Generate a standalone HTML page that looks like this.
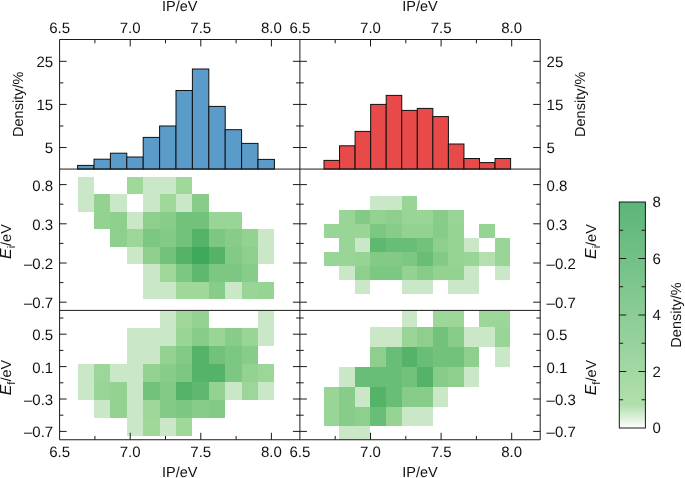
<!DOCTYPE html>
<html><head><meta charset="utf-8"><style>
html,body{margin:0;padding:0;background:#fff;width:685px;height:478px;overflow:hidden}
svg{display:block;will-change:transform}
text{font-family:"Liberation Sans", sans-serif;font-size:14.5px;fill:#111}
text.t{font-size:15px}
</style></head><body>
<svg width="685" height="478" viewBox="0 0 685 478" text-rendering="geometricPrecision">
<g shape-rendering="crispEdges">
<rect x="77.60" y="176.80" width="16.40" height="17.47" fill="#cae8c7"/>
<rect x="126.80" y="176.80" width="16.40" height="17.47" fill="#9fd899"/>
<rect x="143.20" y="176.80" width="16.40" height="17.47" fill="#cae8c7"/>
<rect x="159.60" y="176.80" width="16.40" height="17.47" fill="#cae8c7"/>
<rect x="176.00" y="176.80" width="16.40" height="17.47" fill="#9fd899"/>
<rect x="77.60" y="194.27" width="16.40" height="17.47" fill="#cae8c7"/>
<rect x="94.00" y="194.27" width="16.40" height="17.47" fill="#93d291"/>
<rect x="110.40" y="194.27" width="16.40" height="17.47" fill="#cae8c7"/>
<rect x="143.20" y="194.27" width="16.40" height="17.47" fill="#cae8c7"/>
<rect x="159.60" y="194.27" width="16.40" height="17.47" fill="#9fd899"/>
<rect x="176.00" y="194.27" width="16.40" height="17.47" fill="#cae8c7"/>
<rect x="192.40" y="194.27" width="16.40" height="17.47" fill="#88cc89"/>
<rect x="94.00" y="211.74" width="16.40" height="17.47" fill="#93d291"/>
<rect x="110.40" y="211.74" width="16.40" height="17.47" fill="#8ecf8d"/>
<rect x="126.80" y="211.74" width="16.40" height="17.47" fill="#cae8c7"/>
<rect x="143.20" y="211.74" width="16.40" height="17.47" fill="#8ecf8d"/>
<rect x="159.60" y="211.74" width="16.40" height="17.47" fill="#88cc89"/>
<rect x="176.00" y="211.74" width="16.40" height="17.47" fill="#72c27c"/>
<rect x="192.40" y="211.74" width="16.40" height="17.47" fill="#72c27c"/>
<rect x="208.80" y="211.74" width="16.40" height="17.47" fill="#99d596"/>
<rect x="225.20" y="211.74" width="16.40" height="17.47" fill="#99d596"/>
<rect x="110.40" y="229.21" width="16.40" height="17.47" fill="#8ecf8d"/>
<rect x="126.80" y="229.21" width="16.40" height="17.47" fill="#9cd698"/>
<rect x="143.20" y="229.21" width="16.40" height="17.47" fill="#7cc782"/>
<rect x="159.60" y="229.21" width="16.40" height="17.47" fill="#82ca86"/>
<rect x="176.00" y="229.21" width="16.40" height="17.47" fill="#72c27c"/>
<rect x="192.40" y="229.21" width="16.40" height="17.47" fill="#55b269"/>
<rect x="208.80" y="229.21" width="16.40" height="17.47" fill="#7cc782"/>
<rect x="225.20" y="229.21" width="16.40" height="17.47" fill="#88cc89"/>
<rect x="241.60" y="229.21" width="16.40" height="17.47" fill="#93d291"/>
<rect x="258.00" y="229.21" width="16.40" height="17.47" fill="#cae8c7"/>
<rect x="126.80" y="246.68" width="16.40" height="17.47" fill="#cae8c7"/>
<rect x="143.20" y="246.68" width="16.40" height="17.47" fill="#8ecf8d"/>
<rect x="159.60" y="246.68" width="16.40" height="17.47" fill="#72c27c"/>
<rect x="176.00" y="246.68" width="16.40" height="17.47" fill="#55b269"/>
<rect x="192.40" y="246.68" width="16.40" height="17.47" fill="#3ea85b"/>
<rect x="208.80" y="246.68" width="16.40" height="17.47" fill="#55b269"/>
<rect x="225.20" y="246.68" width="16.40" height="17.47" fill="#82ca86"/>
<rect x="241.60" y="246.68" width="16.40" height="17.47" fill="#8ecf8d"/>
<rect x="258.00" y="246.68" width="16.40" height="17.47" fill="#cae8c7"/>
<rect x="143.20" y="264.15" width="16.40" height="17.47" fill="#cae8c7"/>
<rect x="159.60" y="264.15" width="16.40" height="17.47" fill="#9fd899"/>
<rect x="176.00" y="264.15" width="16.40" height="17.47" fill="#7cc782"/>
<rect x="192.40" y="264.15" width="16.40" height="17.47" fill="#5fb870"/>
<rect x="208.80" y="264.15" width="16.40" height="17.47" fill="#7cc782"/>
<rect x="225.20" y="264.15" width="16.40" height="17.47" fill="#7cc782"/>
<rect x="241.60" y="264.15" width="16.40" height="17.47" fill="#88cc89"/>
<rect x="143.20" y="281.62" width="16.40" height="17.47" fill="#cae8c7"/>
<rect x="159.60" y="281.62" width="16.40" height="17.47" fill="#cae8c7"/>
<rect x="176.00" y="281.62" width="16.40" height="17.47" fill="#9fd899"/>
<rect x="192.40" y="281.62" width="16.40" height="17.47" fill="#9fd899"/>
<rect x="208.80" y="281.62" width="16.40" height="17.47" fill="#88cc89"/>
<rect x="225.20" y="281.62" width="16.40" height="17.47" fill="#cae8c7"/>
<rect x="241.60" y="281.62" width="16.40" height="17.47" fill="#99d596"/>
<rect x="258.00" y="281.62" width="16.40" height="17.47" fill="#96d494"/>
<rect x="159.60" y="310.50" width="16.40" height="17.90" fill="#cae8c7"/>
<rect x="176.00" y="310.50" width="16.40" height="17.90" fill="#9fd899"/>
<rect x="192.40" y="310.50" width="16.40" height="17.90" fill="#93d291"/>
<rect x="258.00" y="310.50" width="16.40" height="17.90" fill="#cae8c7"/>
<rect x="126.80" y="328.40" width="16.40" height="17.90" fill="#cae8c7"/>
<rect x="143.20" y="328.40" width="16.40" height="17.90" fill="#cae8c7"/>
<rect x="159.60" y="328.40" width="16.40" height="17.90" fill="#cae8c7"/>
<rect x="176.00" y="328.40" width="16.40" height="17.90" fill="#99d596"/>
<rect x="192.40" y="328.40" width="16.40" height="17.90" fill="#88cc89"/>
<rect x="208.80" y="328.40" width="16.40" height="17.90" fill="#99d596"/>
<rect x="225.20" y="328.40" width="16.40" height="17.90" fill="#88cc89"/>
<rect x="241.60" y="328.40" width="16.40" height="17.90" fill="#99d596"/>
<rect x="258.00" y="328.40" width="16.40" height="17.90" fill="#cae8c7"/>
<rect x="126.80" y="346.30" width="16.40" height="17.90" fill="#cae8c7"/>
<rect x="143.20" y="346.30" width="16.40" height="17.90" fill="#cae8c7"/>
<rect x="159.60" y="346.30" width="16.40" height="17.90" fill="#93d291"/>
<rect x="176.00" y="346.30" width="16.40" height="17.90" fill="#82ca86"/>
<rect x="192.40" y="346.30" width="16.40" height="17.90" fill="#55b269"/>
<rect x="208.80" y="346.30" width="16.40" height="17.90" fill="#72c27c"/>
<rect x="225.20" y="346.30" width="16.40" height="17.90" fill="#7cc782"/>
<rect x="241.60" y="346.30" width="16.40" height="17.90" fill="#88cc89"/>
<rect x="77.60" y="364.20" width="16.40" height="17.90" fill="#cae8c7"/>
<rect x="94.00" y="364.20" width="16.40" height="17.90" fill="#9cd698"/>
<rect x="110.40" y="364.20" width="16.40" height="17.90" fill="#cae8c7"/>
<rect x="126.80" y="364.20" width="16.40" height="17.90" fill="#cae8c7"/>
<rect x="143.20" y="364.20" width="16.40" height="17.90" fill="#93d291"/>
<rect x="159.60" y="364.20" width="16.40" height="17.90" fill="#88cc89"/>
<rect x="176.00" y="364.20" width="16.40" height="17.90" fill="#7cc782"/>
<rect x="192.40" y="364.20" width="16.40" height="17.90" fill="#55b269"/>
<rect x="208.80" y="364.20" width="16.40" height="17.90" fill="#55b269"/>
<rect x="225.20" y="364.20" width="16.40" height="17.90" fill="#7cc782"/>
<rect x="241.60" y="364.20" width="16.40" height="17.90" fill="#93d291"/>
<rect x="258.00" y="364.20" width="16.40" height="17.90" fill="#9cd698"/>
<rect x="77.60" y="382.10" width="16.40" height="17.90" fill="#cae8c7"/>
<rect x="94.00" y="382.10" width="16.40" height="17.90" fill="#99d596"/>
<rect x="110.40" y="382.10" width="16.40" height="17.90" fill="#93d291"/>
<rect x="126.80" y="382.10" width="16.40" height="17.90" fill="#cae8c7"/>
<rect x="143.20" y="382.10" width="16.40" height="17.90" fill="#72c27c"/>
<rect x="159.60" y="382.10" width="16.40" height="17.90" fill="#82ca86"/>
<rect x="176.00" y="382.10" width="16.40" height="17.90" fill="#55b269"/>
<rect x="192.40" y="382.10" width="16.40" height="17.90" fill="#5fb870"/>
<rect x="208.80" y="382.10" width="16.40" height="17.90" fill="#93d291"/>
<rect x="225.20" y="382.10" width="16.40" height="17.90" fill="#cae8c7"/>
<rect x="241.60" y="382.10" width="16.40" height="17.90" fill="#9cd698"/>
<rect x="258.00" y="382.10" width="16.40" height="17.90" fill="#cae8c7"/>
<rect x="94.00" y="400.00" width="16.40" height="17.90" fill="#cae8c7"/>
<rect x="110.40" y="400.00" width="16.40" height="17.90" fill="#93d291"/>
<rect x="126.80" y="400.00" width="16.40" height="17.90" fill="#cae8c7"/>
<rect x="143.20" y="400.00" width="16.40" height="17.90" fill="#9cd698"/>
<rect x="159.60" y="400.00" width="16.40" height="17.90" fill="#82ca86"/>
<rect x="176.00" y="400.00" width="16.40" height="17.90" fill="#7cc782"/>
<rect x="192.40" y="400.00" width="16.40" height="17.90" fill="#88cc89"/>
<rect x="208.80" y="400.00" width="16.40" height="17.90" fill="#82ca86"/>
<rect x="126.80" y="417.90" width="16.40" height="17.90" fill="#cae8c7"/>
<rect x="143.20" y="417.90" width="16.40" height="17.90" fill="#9fd899"/>
<rect x="159.60" y="417.90" width="16.40" height="17.90" fill="#cae8c7"/>
<rect x="176.00" y="417.90" width="16.40" height="17.90" fill="#9fd899"/>
<rect x="370.45" y="196.10" width="15.55" height="14.05" fill="#cae8c7"/>
<rect x="386.00" y="196.10" width="15.55" height="14.05" fill="#cae8c7"/>
<rect x="401.55" y="196.10" width="15.55" height="14.05" fill="#99d596"/>
<rect x="339.35" y="210.15" width="15.55" height="14.05" fill="#99d596"/>
<rect x="354.90" y="210.15" width="15.55" height="14.05" fill="#82ca86"/>
<rect x="370.45" y="210.15" width="15.55" height="14.05" fill="#93d291"/>
<rect x="386.00" y="210.15" width="15.55" height="14.05" fill="#8ecf8d"/>
<rect x="401.55" y="210.15" width="15.55" height="14.05" fill="#99d596"/>
<rect x="417.10" y="210.15" width="15.55" height="14.05" fill="#99d596"/>
<rect x="432.65" y="210.15" width="15.55" height="14.05" fill="#88cc89"/>
<rect x="448.20" y="210.15" width="15.55" height="14.05" fill="#99d596"/>
<rect x="323.80" y="224.20" width="15.55" height="14.05" fill="#99d596"/>
<rect x="339.35" y="224.20" width="15.55" height="14.05" fill="#99d596"/>
<rect x="354.90" y="224.20" width="15.55" height="14.05" fill="#99d596"/>
<rect x="370.45" y="224.20" width="15.55" height="14.05" fill="#7cc782"/>
<rect x="386.00" y="224.20" width="15.55" height="14.05" fill="#88cc89"/>
<rect x="401.55" y="224.20" width="15.55" height="14.05" fill="#93d291"/>
<rect x="417.10" y="224.20" width="15.55" height="14.05" fill="#93d291"/>
<rect x="432.65" y="224.20" width="15.55" height="14.05" fill="#88cc89"/>
<rect x="448.20" y="224.20" width="15.55" height="14.05" fill="#96d494"/>
<rect x="479.30" y="224.20" width="15.55" height="14.05" fill="#96d494"/>
<rect x="339.35" y="238.25" width="15.55" height="14.05" fill="#99d596"/>
<rect x="354.90" y="238.25" width="15.55" height="14.05" fill="#cae8c7"/>
<rect x="370.45" y="238.25" width="15.55" height="14.05" fill="#5fb870"/>
<rect x="386.00" y="238.25" width="15.55" height="14.05" fill="#69be77"/>
<rect x="401.55" y="238.25" width="15.55" height="14.05" fill="#69be77"/>
<rect x="417.10" y="238.25" width="15.55" height="14.05" fill="#72c27c"/>
<rect x="432.65" y="238.25" width="15.55" height="14.05" fill="#8ecf8d"/>
<rect x="448.20" y="238.25" width="15.55" height="14.05" fill="#96d494"/>
<rect x="463.75" y="238.25" width="15.55" height="14.05" fill="#cae8c7"/>
<rect x="494.85" y="238.25" width="15.55" height="14.05" fill="#99d596"/>
<rect x="323.80" y="252.30" width="15.55" height="14.05" fill="#99d596"/>
<rect x="339.35" y="252.30" width="15.55" height="14.05" fill="#99d596"/>
<rect x="354.90" y="252.30" width="15.55" height="14.05" fill="#96d494"/>
<rect x="370.45" y="252.30" width="15.55" height="14.05" fill="#82ca86"/>
<rect x="386.00" y="252.30" width="15.55" height="14.05" fill="#82ca86"/>
<rect x="401.55" y="252.30" width="15.55" height="14.05" fill="#7cc782"/>
<rect x="417.10" y="252.30" width="15.55" height="14.05" fill="#69be77"/>
<rect x="432.65" y="252.30" width="15.55" height="14.05" fill="#82ca86"/>
<rect x="448.20" y="252.30" width="15.55" height="14.05" fill="#96d494"/>
<rect x="463.75" y="252.30" width="15.55" height="14.05" fill="#99d596"/>
<rect x="479.30" y="252.30" width="15.55" height="14.05" fill="#b4e0b0"/>
<rect x="494.85" y="252.30" width="15.55" height="14.05" fill="#99d596"/>
<rect x="339.35" y="266.35" width="15.55" height="14.05" fill="#cae8c7"/>
<rect x="354.90" y="266.35" width="15.55" height="14.05" fill="#8ecf8d"/>
<rect x="370.45" y="266.35" width="15.55" height="14.05" fill="#7cc782"/>
<rect x="386.00" y="266.35" width="15.55" height="14.05" fill="#7cc782"/>
<rect x="401.55" y="266.35" width="15.55" height="14.05" fill="#93d291"/>
<rect x="417.10" y="266.35" width="15.55" height="14.05" fill="#88cc89"/>
<rect x="432.65" y="266.35" width="15.55" height="14.05" fill="#93d291"/>
<rect x="448.20" y="266.35" width="15.55" height="14.05" fill="#93d291"/>
<rect x="463.75" y="266.35" width="15.55" height="14.05" fill="#cae8c7"/>
<rect x="494.85" y="266.35" width="15.55" height="14.05" fill="#cae8c7"/>
<rect x="354.90" y="280.40" width="15.55" height="14.05" fill="#cae8c7"/>
<rect x="401.55" y="280.40" width="15.55" height="14.05" fill="#cae8c7"/>
<rect x="417.10" y="280.40" width="15.55" height="14.05" fill="#cae8c7"/>
<rect x="448.20" y="280.40" width="15.55" height="14.05" fill="#cae8c7"/>
<rect x="463.75" y="280.40" width="15.55" height="14.05" fill="#cae8c7"/>
<rect x="401.55" y="310.40" width="15.55" height="17.00" fill="#cae8c7"/>
<rect x="432.65" y="310.40" width="15.55" height="17.00" fill="#9cd698"/>
<rect x="448.20" y="310.40" width="15.55" height="17.00" fill="#9cd698"/>
<rect x="479.30" y="310.40" width="15.55" height="17.00" fill="#9cd698"/>
<rect x="494.85" y="310.40" width="15.55" height="17.00" fill="#9cd698"/>
<rect x="370.45" y="327.40" width="15.55" height="19.80" fill="#cae8c7"/>
<rect x="386.00" y="327.40" width="15.55" height="19.80" fill="#cae8c7"/>
<rect x="401.55" y="327.40" width="15.55" height="19.80" fill="#99d596"/>
<rect x="417.10" y="327.40" width="15.55" height="19.80" fill="#8ecf8d"/>
<rect x="432.65" y="327.40" width="15.55" height="19.80" fill="#72c27c"/>
<rect x="448.20" y="327.40" width="15.55" height="19.80" fill="#88cc89"/>
<rect x="463.75" y="327.40" width="15.55" height="19.80" fill="#cae8c7"/>
<rect x="479.30" y="327.40" width="15.55" height="19.80" fill="#cae8c7"/>
<rect x="494.85" y="327.40" width="15.55" height="19.80" fill="#99d596"/>
<rect x="370.45" y="347.20" width="15.55" height="19.80" fill="#8ecf8d"/>
<rect x="386.00" y="347.20" width="15.55" height="19.80" fill="#69be77"/>
<rect x="401.55" y="347.20" width="15.55" height="19.80" fill="#55b269"/>
<rect x="417.10" y="347.20" width="15.55" height="19.80" fill="#69be77"/>
<rect x="432.65" y="347.20" width="15.55" height="19.80" fill="#72c27c"/>
<rect x="448.20" y="347.20" width="15.55" height="19.80" fill="#72c27c"/>
<rect x="463.75" y="347.20" width="15.55" height="19.80" fill="#8ecf8d"/>
<rect x="494.85" y="347.20" width="15.55" height="19.80" fill="#cae8c7"/>
<rect x="339.35" y="367.00" width="15.55" height="19.80" fill="#cae8c7"/>
<rect x="354.90" y="367.00" width="15.55" height="19.80" fill="#69be77"/>
<rect x="370.45" y="367.00" width="15.55" height="19.80" fill="#69be77"/>
<rect x="386.00" y="367.00" width="15.55" height="19.80" fill="#69be77"/>
<rect x="401.55" y="367.00" width="15.55" height="19.80" fill="#72c27c"/>
<rect x="417.10" y="367.00" width="15.55" height="19.80" fill="#55b269"/>
<rect x="432.65" y="367.00" width="15.55" height="19.80" fill="#88cc89"/>
<rect x="448.20" y="367.00" width="15.55" height="19.80" fill="#8ecf8d"/>
<rect x="463.75" y="367.00" width="15.55" height="19.80" fill="#cae8c7"/>
<rect x="323.80" y="386.80" width="15.55" height="19.80" fill="#99d596"/>
<rect x="339.35" y="386.80" width="15.55" height="19.80" fill="#88cc89"/>
<rect x="354.90" y="386.80" width="15.55" height="19.80" fill="#cae8c7"/>
<rect x="370.45" y="386.80" width="15.55" height="19.80" fill="#55b269"/>
<rect x="386.00" y="386.80" width="15.55" height="19.80" fill="#69be77"/>
<rect x="401.55" y="386.80" width="15.55" height="19.80" fill="#88cc89"/>
<rect x="417.10" y="386.80" width="15.55" height="19.80" fill="#88cc89"/>
<rect x="432.65" y="386.80" width="15.55" height="19.80" fill="#cae8c7"/>
<rect x="323.80" y="406.60" width="15.55" height="19.80" fill="#99d596"/>
<rect x="339.35" y="406.60" width="15.55" height="19.80" fill="#88cc89"/>
<rect x="354.90" y="406.60" width="15.55" height="19.80" fill="#8ecf8d"/>
<rect x="370.45" y="406.60" width="15.55" height="19.80" fill="#69be77"/>
<rect x="386.00" y="406.60" width="15.55" height="19.80" fill="#96d494"/>
<rect x="401.55" y="406.60" width="15.55" height="19.80" fill="#cae8c7"/>
<rect x="417.10" y="406.60" width="15.55" height="19.80" fill="#cae8c7"/>
<rect x="339.35" y="426.40" width="15.55" height="13.35" fill="#cae8c7"/>
<rect x="354.90" y="426.40" width="15.55" height="13.35" fill="#cae8c7"/>
</g>
<rect x="77.60" y="165.40" width="16.4" height="3.67" fill="#5a9bc9" stroke="#111" stroke-width="1"/>
<rect x="94.00" y="159.20" width="16.4" height="9.87" fill="#5a9bc9" stroke="#111" stroke-width="1"/>
<rect x="110.40" y="153.20" width="16.4" height="15.87" fill="#5a9bc9" stroke="#111" stroke-width="1"/>
<rect x="126.80" y="157.00" width="16.4" height="12.07" fill="#5a9bc9" stroke="#111" stroke-width="1"/>
<rect x="143.20" y="137.40" width="16.4" height="31.67" fill="#5a9bc9" stroke="#111" stroke-width="1"/>
<rect x="159.60" y="126.00" width="16.4" height="43.07" fill="#5a9bc9" stroke="#111" stroke-width="1"/>
<rect x="176.00" y="90.50" width="16.4" height="78.57" fill="#5a9bc9" stroke="#111" stroke-width="1"/>
<rect x="192.40" y="69.00" width="16.4" height="100.07" fill="#5a9bc9" stroke="#111" stroke-width="1"/>
<rect x="208.80" y="106.40" width="16.4" height="62.67" fill="#5a9bc9" stroke="#111" stroke-width="1"/>
<rect x="225.20" y="129.70" width="16.4" height="39.37" fill="#5a9bc9" stroke="#111" stroke-width="1"/>
<rect x="241.60" y="143.40" width="16.4" height="25.67" fill="#5a9bc9" stroke="#111" stroke-width="1"/>
<rect x="258.00" y="159.40" width="16.4" height="9.67" fill="#5a9bc9" stroke="#111" stroke-width="1"/>
<rect x="324.00" y="160.40" width="15.55" height="8.67" fill="#e84a4a" stroke="#111" stroke-width="1"/>
<rect x="339.55" y="145.80" width="15.55" height="23.27" fill="#e84a4a" stroke="#111" stroke-width="1"/>
<rect x="355.10" y="131.40" width="15.55" height="37.67" fill="#e84a4a" stroke="#111" stroke-width="1"/>
<rect x="370.65" y="104.40" width="15.55" height="64.67" fill="#e84a4a" stroke="#111" stroke-width="1"/>
<rect x="386.20" y="95.40" width="15.55" height="73.67" fill="#e84a4a" stroke="#111" stroke-width="1"/>
<rect x="401.75" y="110.40" width="15.55" height="58.67" fill="#e84a4a" stroke="#111" stroke-width="1"/>
<rect x="417.30" y="108.40" width="15.55" height="60.67" fill="#e84a4a" stroke="#111" stroke-width="1"/>
<rect x="432.85" y="116.60" width="15.55" height="52.47" fill="#e84a4a" stroke="#111" stroke-width="1"/>
<rect x="448.40" y="144.00" width="15.55" height="25.07" fill="#e84a4a" stroke="#111" stroke-width="1"/>
<rect x="463.95" y="158.50" width="15.55" height="10.57" fill="#e84a4a" stroke="#111" stroke-width="1"/>
<rect x="479.50" y="162.60" width="15.55" height="6.47" fill="#e84a4a" stroke="#111" stroke-width="1"/>
<rect x="495.05" y="158.50" width="15.55" height="10.57" fill="#e84a4a" stroke="#111" stroke-width="1"/>
<line x1="59.60" y1="39.50" x2="540.20" y2="39.50" stroke="#1a1a1a" stroke-width="1.0"/>
<line x1="59.60" y1="439.75" x2="540.20" y2="439.75" stroke="#1a1a1a" stroke-width="1.0"/>
<line x1="59.60" y1="39.50" x2="59.60" y2="439.75" stroke="#1a1a1a" stroke-width="1.0"/>
<line x1="299.90" y1="39.50" x2="299.90" y2="439.75" stroke="#1a1a1a" stroke-width="1.0"/>
<line x1="540.20" y1="39.50" x2="540.20" y2="439.75" stroke="#1a1a1a" stroke-width="1.0"/>
<line x1="59.60" y1="169.07" x2="540.20" y2="169.07" stroke="#1a1a1a" stroke-width="1.0"/>
<line x1="59.60" y1="310.40" x2="540.20" y2="310.40" stroke="#1a1a1a" stroke-width="1.0"/>
<line x1="94.90" y1="39.50" x2="94.90" y2="43.30" stroke="#1a1a1a" stroke-width="1.0"/>
<line x1="94.90" y1="439.75" x2="94.90" y2="435.95" stroke="#1a1a1a" stroke-width="1.0"/>
<line x1="130.20" y1="39.50" x2="130.20" y2="46.50" stroke="#1a1a1a" stroke-width="1.0"/>
<line x1="130.20" y1="439.75" x2="130.20" y2="432.75" stroke="#1a1a1a" stroke-width="1.0"/>
<line x1="165.50" y1="39.50" x2="165.50" y2="43.30" stroke="#1a1a1a" stroke-width="1.0"/>
<line x1="165.50" y1="439.75" x2="165.50" y2="435.95" stroke="#1a1a1a" stroke-width="1.0"/>
<line x1="200.80" y1="39.50" x2="200.80" y2="46.50" stroke="#1a1a1a" stroke-width="1.0"/>
<line x1="200.80" y1="439.75" x2="200.80" y2="432.75" stroke="#1a1a1a" stroke-width="1.0"/>
<line x1="236.10" y1="39.50" x2="236.10" y2="43.30" stroke="#1a1a1a" stroke-width="1.0"/>
<line x1="236.10" y1="439.75" x2="236.10" y2="435.95" stroke="#1a1a1a" stroke-width="1.0"/>
<line x1="271.40" y1="39.50" x2="271.40" y2="46.50" stroke="#1a1a1a" stroke-width="1.0"/>
<line x1="271.40" y1="439.75" x2="271.40" y2="432.75" stroke="#1a1a1a" stroke-width="1.0"/>
<line x1="335.20" y1="39.50" x2="335.20" y2="43.30" stroke="#1a1a1a" stroke-width="1.0"/>
<line x1="335.20" y1="439.75" x2="335.20" y2="435.95" stroke="#1a1a1a" stroke-width="1.0"/>
<line x1="370.50" y1="39.50" x2="370.50" y2="46.50" stroke="#1a1a1a" stroke-width="1.0"/>
<line x1="370.50" y1="439.75" x2="370.50" y2="432.75" stroke="#1a1a1a" stroke-width="1.0"/>
<line x1="405.80" y1="39.50" x2="405.80" y2="43.30" stroke="#1a1a1a" stroke-width="1.0"/>
<line x1="405.80" y1="439.75" x2="405.80" y2="435.95" stroke="#1a1a1a" stroke-width="1.0"/>
<line x1="441.10" y1="39.50" x2="441.10" y2="46.50" stroke="#1a1a1a" stroke-width="1.0"/>
<line x1="441.10" y1="439.75" x2="441.10" y2="432.75" stroke="#1a1a1a" stroke-width="1.0"/>
<line x1="476.40" y1="39.50" x2="476.40" y2="43.30" stroke="#1a1a1a" stroke-width="1.0"/>
<line x1="476.40" y1="439.75" x2="476.40" y2="435.95" stroke="#1a1a1a" stroke-width="1.0"/>
<line x1="511.70" y1="39.50" x2="511.70" y2="46.50" stroke="#1a1a1a" stroke-width="1.0"/>
<line x1="511.70" y1="439.75" x2="511.70" y2="432.75" stroke="#1a1a1a" stroke-width="1.0"/>
<line x1="59.60" y1="147.52" x2="66.60" y2="147.52" stroke="#1a1a1a" stroke-width="1.0"/>
<line x1="292.90" y1="147.52" x2="306.90" y2="147.52" stroke="#1a1a1a" stroke-width="1.0"/>
<line x1="533.20" y1="147.52" x2="540.20" y2="147.52" stroke="#1a1a1a" stroke-width="1.0"/>
<line x1="59.60" y1="104.42" x2="66.60" y2="104.42" stroke="#1a1a1a" stroke-width="1.0"/>
<line x1="292.90" y1="104.42" x2="306.90" y2="104.42" stroke="#1a1a1a" stroke-width="1.0"/>
<line x1="533.20" y1="104.42" x2="540.20" y2="104.42" stroke="#1a1a1a" stroke-width="1.0"/>
<line x1="59.60" y1="61.32" x2="66.60" y2="61.32" stroke="#1a1a1a" stroke-width="1.0"/>
<line x1="292.90" y1="61.32" x2="306.90" y2="61.32" stroke="#1a1a1a" stroke-width="1.0"/>
<line x1="533.20" y1="61.32" x2="540.20" y2="61.32" stroke="#1a1a1a" stroke-width="1.0"/>
<line x1="59.60" y1="125.97" x2="63.40" y2="125.97" stroke="#1a1a1a" stroke-width="1.0"/>
<line x1="296.10" y1="125.97" x2="303.70" y2="125.97" stroke="#1a1a1a" stroke-width="1.0"/>
<line x1="536.40" y1="125.97" x2="540.20" y2="125.97" stroke="#1a1a1a" stroke-width="1.0"/>
<line x1="59.60" y1="82.87" x2="63.40" y2="82.87" stroke="#1a1a1a" stroke-width="1.0"/>
<line x1="296.10" y1="82.87" x2="303.70" y2="82.87" stroke="#1a1a1a" stroke-width="1.0"/>
<line x1="536.40" y1="82.87" x2="540.20" y2="82.87" stroke="#1a1a1a" stroke-width="1.0"/>
<line x1="59.60" y1="184.60" x2="66.60" y2="184.60" stroke="#1a1a1a" stroke-width="1.0"/>
<line x1="292.90" y1="184.60" x2="306.90" y2="184.60" stroke="#1a1a1a" stroke-width="1.0"/>
<line x1="533.20" y1="184.60" x2="540.20" y2="184.60" stroke="#1a1a1a" stroke-width="1.0"/>
<line x1="59.60" y1="223.80" x2="66.60" y2="223.80" stroke="#1a1a1a" stroke-width="1.0"/>
<line x1="292.90" y1="223.80" x2="306.90" y2="223.80" stroke="#1a1a1a" stroke-width="1.0"/>
<line x1="533.20" y1="223.80" x2="540.20" y2="223.80" stroke="#1a1a1a" stroke-width="1.0"/>
<line x1="59.60" y1="263.00" x2="66.60" y2="263.00" stroke="#1a1a1a" stroke-width="1.0"/>
<line x1="292.90" y1="263.00" x2="306.90" y2="263.00" stroke="#1a1a1a" stroke-width="1.0"/>
<line x1="533.20" y1="263.00" x2="540.20" y2="263.00" stroke="#1a1a1a" stroke-width="1.0"/>
<line x1="59.60" y1="302.20" x2="66.60" y2="302.20" stroke="#1a1a1a" stroke-width="1.0"/>
<line x1="292.90" y1="302.20" x2="306.90" y2="302.20" stroke="#1a1a1a" stroke-width="1.0"/>
<line x1="533.20" y1="302.20" x2="540.20" y2="302.20" stroke="#1a1a1a" stroke-width="1.0"/>
<line x1="59.60" y1="204.20" x2="63.40" y2="204.20" stroke="#1a1a1a" stroke-width="1.0"/>
<line x1="296.10" y1="204.20" x2="303.70" y2="204.20" stroke="#1a1a1a" stroke-width="1.0"/>
<line x1="536.40" y1="204.20" x2="540.20" y2="204.20" stroke="#1a1a1a" stroke-width="1.0"/>
<line x1="59.60" y1="243.40" x2="63.40" y2="243.40" stroke="#1a1a1a" stroke-width="1.0"/>
<line x1="296.10" y1="243.40" x2="303.70" y2="243.40" stroke="#1a1a1a" stroke-width="1.0"/>
<line x1="536.40" y1="243.40" x2="540.20" y2="243.40" stroke="#1a1a1a" stroke-width="1.0"/>
<line x1="59.60" y1="282.60" x2="63.40" y2="282.60" stroke="#1a1a1a" stroke-width="1.0"/>
<line x1="296.10" y1="282.60" x2="303.70" y2="282.60" stroke="#1a1a1a" stroke-width="1.0"/>
<line x1="536.40" y1="282.60" x2="540.20" y2="282.60" stroke="#1a1a1a" stroke-width="1.0"/>
<line x1="59.60" y1="334.20" x2="66.60" y2="334.20" stroke="#1a1a1a" stroke-width="1.0"/>
<line x1="292.90" y1="334.20" x2="306.90" y2="334.20" stroke="#1a1a1a" stroke-width="1.0"/>
<line x1="533.20" y1="334.20" x2="540.20" y2="334.20" stroke="#1a1a1a" stroke-width="1.0"/>
<line x1="59.60" y1="366.60" x2="66.60" y2="366.60" stroke="#1a1a1a" stroke-width="1.0"/>
<line x1="292.90" y1="366.60" x2="306.90" y2="366.60" stroke="#1a1a1a" stroke-width="1.0"/>
<line x1="533.20" y1="366.60" x2="540.20" y2="366.60" stroke="#1a1a1a" stroke-width="1.0"/>
<line x1="59.60" y1="399.00" x2="66.60" y2="399.00" stroke="#1a1a1a" stroke-width="1.0"/>
<line x1="292.90" y1="399.00" x2="306.90" y2="399.00" stroke="#1a1a1a" stroke-width="1.0"/>
<line x1="533.20" y1="399.00" x2="540.20" y2="399.00" stroke="#1a1a1a" stroke-width="1.0"/>
<line x1="59.60" y1="431.40" x2="66.60" y2="431.40" stroke="#1a1a1a" stroke-width="1.0"/>
<line x1="292.90" y1="431.40" x2="306.90" y2="431.40" stroke="#1a1a1a" stroke-width="1.0"/>
<line x1="533.20" y1="431.40" x2="540.20" y2="431.40" stroke="#1a1a1a" stroke-width="1.0"/>
<line x1="59.60" y1="318.00" x2="63.40" y2="318.00" stroke="#1a1a1a" stroke-width="1.0"/>
<line x1="296.10" y1="318.00" x2="303.70" y2="318.00" stroke="#1a1a1a" stroke-width="1.0"/>
<line x1="536.40" y1="318.00" x2="540.20" y2="318.00" stroke="#1a1a1a" stroke-width="1.0"/>
<line x1="59.60" y1="350.40" x2="63.40" y2="350.40" stroke="#1a1a1a" stroke-width="1.0"/>
<line x1="296.10" y1="350.40" x2="303.70" y2="350.40" stroke="#1a1a1a" stroke-width="1.0"/>
<line x1="536.40" y1="350.40" x2="540.20" y2="350.40" stroke="#1a1a1a" stroke-width="1.0"/>
<line x1="59.60" y1="382.80" x2="63.40" y2="382.80" stroke="#1a1a1a" stroke-width="1.0"/>
<line x1="296.10" y1="382.80" x2="303.70" y2="382.80" stroke="#1a1a1a" stroke-width="1.0"/>
<line x1="536.40" y1="382.80" x2="540.20" y2="382.80" stroke="#1a1a1a" stroke-width="1.0"/>
<line x1="59.60" y1="415.20" x2="63.40" y2="415.20" stroke="#1a1a1a" stroke-width="1.0"/>
<line x1="296.10" y1="415.20" x2="303.70" y2="415.20" stroke="#1a1a1a" stroke-width="1.0"/>
<line x1="536.40" y1="415.20" x2="540.20" y2="415.20" stroke="#1a1a1a" stroke-width="1.0"/>
<text class="t" x="59.60" y="33.00" text-anchor="middle">6.5</text>
<text class="t" x="59.60" y="456.90" text-anchor="middle">6.5</text>
<text class="t" x="130.20" y="33.00" text-anchor="middle">7.0</text>
<text class="t" x="130.20" y="456.90" text-anchor="middle">7.0</text>
<text class="t" x="200.80" y="33.00" text-anchor="middle">7.5</text>
<text class="t" x="200.80" y="456.90" text-anchor="middle">7.5</text>
<text class="t" x="271.40" y="33.00" text-anchor="middle">8.0</text>
<text class="t" x="271.40" y="456.90" text-anchor="middle">8.0</text>
<text class="t" x="299.90" y="33.00" text-anchor="middle">6.5</text>
<text class="t" x="299.90" y="456.90" text-anchor="middle">6.5</text>
<text class="t" x="370.50" y="33.00" text-anchor="middle">7.0</text>
<text class="t" x="370.50" y="456.90" text-anchor="middle">7.0</text>
<text class="t" x="441.10" y="33.00" text-anchor="middle">7.5</text>
<text class="t" x="441.10" y="456.90" text-anchor="middle">7.5</text>
<text class="t" x="511.70" y="33.00" text-anchor="middle">8.0</text>
<text class="t" x="511.70" y="456.90" text-anchor="middle">8.0</text>
<text x="179.75" y="10.90" text-anchor="middle" >IP/eV</text>
<text x="179.75" y="477.40" text-anchor="middle" >IP/eV</text>
<text x="420.05" y="10.90" text-anchor="middle" >IP/eV</text>
<text x="420.05" y="477.40" text-anchor="middle" >IP/eV</text>
<text class="t" x="53.20" y="67.22" text-anchor="end">25</text>
<text class="t" x="546.60" y="67.22" text-anchor="start">25</text>
<text class="t" x="53.20" y="110.32" text-anchor="end">15</text>
<text class="t" x="546.60" y="110.32" text-anchor="start">15</text>
<text class="t" x="53.20" y="153.42" text-anchor="end">5</text>
<text class="t" x="546.60" y="153.42" text-anchor="start">5</text>
<text class="t" x="53.20" y="190.50" text-anchor="end">0.8</text>
<text class="t" x="546.60" y="190.50" text-anchor="start">0.8</text>
<text class="t" x="53.20" y="229.70" text-anchor="end">0.3</text>
<text class="t" x="546.60" y="229.70" text-anchor="start">0.3</text>
<text class="t" x="53.20" y="268.90" text-anchor="end">–0.2</text>
<text class="t" x="546.60" y="268.90" text-anchor="start">–0.2</text>
<text class="t" x="53.20" y="308.10" text-anchor="end">–0.7</text>
<text class="t" x="546.60" y="308.10" text-anchor="start">–0.7</text>
<text class="t" x="53.20" y="340.10" text-anchor="end">0.5</text>
<text class="t" x="546.60" y="340.10" text-anchor="start">0.5</text>
<text class="t" x="53.20" y="372.50" text-anchor="end">0.1</text>
<text class="t" x="546.60" y="372.50" text-anchor="start">0.1</text>
<text class="t" x="53.20" y="404.90" text-anchor="end">–0.3</text>
<text class="t" x="546.60" y="404.90" text-anchor="start">–0.3</text>
<text class="t" x="53.20" y="437.30" text-anchor="end">–0.7</text>
<text class="t" x="546.60" y="437.30" text-anchor="start">–0.7</text>
<text transform="translate(22.60,104.30) rotate(-90)" text-anchor="middle">Density/%</text>
<text transform="translate(584.80,104.30) rotate(-90)" text-anchor="middle">Density/%</text>
<text transform="translate(11.20,241.60) rotate(-90)" text-anchor="middle"><tspan font-style="italic" font-size="16">E</tspan><tspan font-size="11" dy="3.5">i</tspan><tspan dy="-3.5">/eV</tspan></text>
<text transform="translate(596.40,241.60) rotate(-90)" text-anchor="middle"><tspan font-style="italic" font-size="16">E</tspan><tspan font-size="11" dy="3.5">i</tspan><tspan dy="-3.5">/eV</tspan></text>
<text transform="translate(11.20,377.60) rotate(-90)" text-anchor="middle"><tspan font-style="italic" font-size="16">E</tspan><tspan font-size="11" dy="3.5">f</tspan><tspan dy="-3.5">/eV</tspan></text>
<text transform="translate(596.40,377.60) rotate(-90)" text-anchor="middle"><tspan font-style="italic" font-size="16">E</tspan><tspan font-size="11" dy="3.5">f</tspan><tspan dy="-3.5">/eV</tspan></text>
<defs><linearGradient id="cb" x1="0" y1="1" x2="0" y2="0"><stop offset="0" stop-color="#ffffff"/><stop offset="0.1" stop-color="#b2dfac"/><stop offset="1" stop-color="#5bb578"/></linearGradient></defs>
<rect x="619.3" y="202.0" width="26.10" height="226.00" fill="url(#cb)" stroke="#1a1a1a" stroke-width="1"/>
<line x1="619.30" y1="399.75" x2="623.10" y2="399.75" stroke="#1a1a1a" stroke-width="1.0"/>
<line x1="641.60" y1="399.75" x2="645.40" y2="399.75" stroke="#1a1a1a" stroke-width="1.0"/>
<line x1="619.30" y1="371.50" x2="626.30" y2="371.50" stroke="#1a1a1a" stroke-width="1.0"/>
<line x1="638.40" y1="371.50" x2="645.40" y2="371.50" stroke="#1a1a1a" stroke-width="1.0"/>
<line x1="619.30" y1="343.25" x2="623.10" y2="343.25" stroke="#1a1a1a" stroke-width="1.0"/>
<line x1="641.60" y1="343.25" x2="645.40" y2="343.25" stroke="#1a1a1a" stroke-width="1.0"/>
<line x1="619.30" y1="315.00" x2="626.30" y2="315.00" stroke="#1a1a1a" stroke-width="1.0"/>
<line x1="638.40" y1="315.00" x2="645.40" y2="315.00" stroke="#1a1a1a" stroke-width="1.0"/>
<line x1="619.30" y1="286.75" x2="623.10" y2="286.75" stroke="#1a1a1a" stroke-width="1.0"/>
<line x1="641.60" y1="286.75" x2="645.40" y2="286.75" stroke="#1a1a1a" stroke-width="1.0"/>
<line x1="619.30" y1="258.50" x2="626.30" y2="258.50" stroke="#1a1a1a" stroke-width="1.0"/>
<line x1="638.40" y1="258.50" x2="645.40" y2="258.50" stroke="#1a1a1a" stroke-width="1.0"/>
<line x1="619.30" y1="230.25" x2="623.10" y2="230.25" stroke="#1a1a1a" stroke-width="1.0"/>
<line x1="641.60" y1="230.25" x2="645.40" y2="230.25" stroke="#1a1a1a" stroke-width="1.0"/>
<text class="t" x="652.50" y="433.30" text-anchor="start">0</text>
<text class="t" x="652.50" y="376.80" text-anchor="start">2</text>
<text class="t" x="652.50" y="320.30" text-anchor="start">4</text>
<text class="t" x="652.50" y="263.80" text-anchor="start">6</text>
<text class="t" x="652.50" y="207.30" text-anchor="start">8</text>
<text transform="translate(681.00,315.00) rotate(-90)" text-anchor="middle">Density/%</text>
</svg>
</body></html>
